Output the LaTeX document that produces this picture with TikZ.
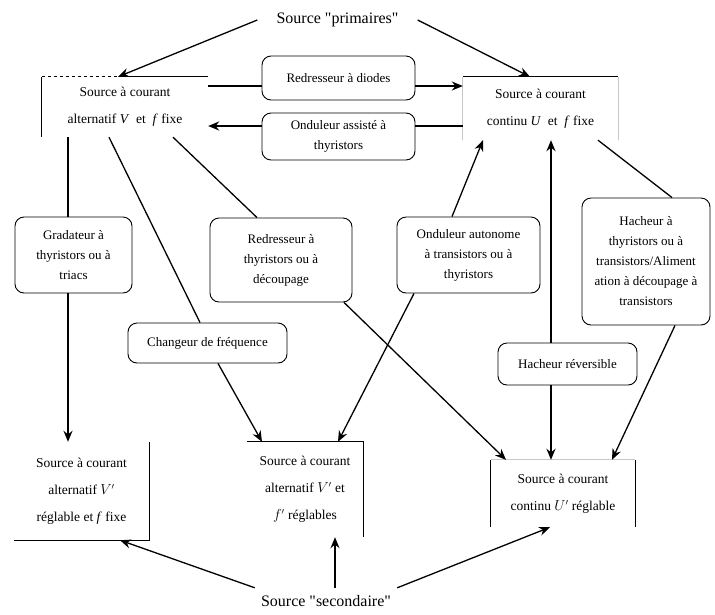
\documentclass[tikz,border=0pt]{standalone}
\usepackage{fontspec}
\setmainfont{Liberation Serif}
\usetikzlibrary{arrows.meta}
\begin{document}
\begin{tikzpicture}[x=1pt,y=-1pt,
  font=\fontsize{13}{20}\selectfont,
  conv/.style={draw, rounded corners=9pt, line width=0.9pt, align=center, inner sep=0pt},
  src/.style={align=center, inner sep=0pt, font=\fontsize{13.5}{27}\selectfont},
  big/.style={align=center, inner sep=0pt, font=\fontsize{16}{20}\selectfont},
  frame/.style={line width=1pt},
  faint/.style={line width=0.8pt, black!22},
  link/.style={line width=1.3pt},
  arr/.style={link, -{Stealth[length=11pt,width=9pt]}},
  heavy/.style={line width=2pt},
]
\useasboundingbox (0,0) rectangle (715,614);

% ---- sources ----
\node[big, minimum width=160pt, minimum height=16pt] (prim) at (337.5,20) {Source \textquotedbl primaires\textquotedbl};
\node[big, minimum width=142pt, minimum height=26pt] (sec) at (326,601) {Source \textquotedbl secondaire\textquotedbl};

\node[src, minimum width=166pt, minimum height=60pt] (tl) at (125,107)
  {Source à courant\\ alternatif \textit{V}~ et~ \textit{f} fixe};
\node[src, minimum width=155pt, minimum height=63pt] (tr) at (540.5,108.5)
  {Source à courant\\ continu \textit{U}~ et~ \textit{f} fixe};
\node[src, minimum width=135pt, minimum height=98pt] (bl) at (81.5,491)
  {Source à courant\\ alternatif $V'$\\ réglable et \textit{f} fixe};
\node[src, minimum width=116pt, minimum height=95pt] (bm) at (305,489.5)
  {Source à courant\\ alternatif $V'$ et\\ $f'$ réglables};
\node[src, minimum width=144pt, minimum height=67pt] (br) at (563,493.5)
  {Source à courant\\ continu $U'$ réglable};

% partial frames of the sources
\draw[frame, dashed] (tl.north west) -- (tl.north);
\draw[frame] (tl.north) -- (tl.north east);
\draw[frame] (tl.north west) -- (tl.south west);
\draw[frame] (tr.north west) -- (tr.north east);
\draw[faint] (tr.north west) -- (tr.south west);
\draw[faint] (tr.north east) -- (tr.south east);
\draw[frame] (bl.north east) -- (bl.south east) -- (bl.south west);
\draw[frame] (bm.north west) -- (bm.north east) -- (bm.south east);
\draw[frame] (br.north west) -- (br.south west);
\draw[frame] (br.north east) -- (br.south east);
\draw[faint] (br.north west) -- (br.north east);

% ---- converters ----
\node[conv, minimum width=153pt, minimum height=44pt] (redD) at (338.5,78) {Redresseur à diodes};
\node[conv, minimum width=153pt, minimum height=47pt] (ondA) at (338.5,136.5) {Onduleur assisté à\\ thyristors};
\node[conv, minimum width=117pt, minimum height=76pt] (grad) at (73.5,255) {Gradateur à\\ thyristors ou à\\ triacs};
\node[conv, minimum width=142pt, minimum height=84pt] (redT) at (281,260) {Redresseur à\\ thyristors ou à\\ découpage};
\node[conv, minimum width=159pt, minimum height=40pt] (chg) at (207.5,343) {Changeur de fréquence};
\node[conv, minimum width=143pt, minimum height=76pt] (ondAu) at (468.5,255) {Onduleur autonome\\ à transistors ou à\\ thyristors};
\node[conv, minimum width=128pt, minimum height=127pt] (hach) at (646,261.5) {Hacheur à\\ thyristors ou à\\ transistors/Aliment\\ ation à découpage à\\ transistors};
\node[conv, minimum width=139pt, minimum height=42pt] (hachR) at (567.5,364) {Hacheur réversible};

% ---- connectors ----
\draw[arr] (prim.west) -- (tl.north -| 118,0);
\draw[arr] (prim.east) -- (tr.north -| 530,0);

\draw[link, heavy] (tl.east |- 0,86) -- (redD.west |- 0,86);
\draw[arr, heavy] (redD.east |- 0,86) -- (tr.west |- 0,86);
\draw[link, heavy] (tr.west |- 0,126) -- (ondA.east |- 0,126);
\draw[arr, heavy] (ondA.west |- 0,126) -- (tl.east |- 0,126);

\draw[link, heavy] (tl.south -| 68,0) -- (grad.north -| 68,0);
\draw[arr, heavy] (grad.south -| 68,0) -- (bl.north -| 68,0);

\draw[link] (tl.south -| 109,0) -- (chg.north -| 200,0);
\draw[arr] (chg.south -| 218,0) -- (bm.north -| 262,0);

\draw[link] (tl.south -| 173,0) -- (redT.north -| 257,0);
\draw[arr] (redT.south -| 344,0) -- (br.north -| 506,0);

\draw[arr] (ondAu.south -| 414,0) -- (bm.north -| 338,0);
\draw[arr] (ondAu.north -| 452,0) -- (tr.south -| 483,0);

\draw[arr, heavy] (hachR.north -| 551,0) -- (tr.south -| 551,0);
\draw[arr, heavy] (hachR.south -| 551,0) -- (br.north -| 551,0);

\draw[link] (tr.south -| 598,0) -- (hach.north -| 672,0);
\draw[arr] (hach.south -| 675,0) -- (br.north -| 612,0);

\draw[arr] (sec.north west) -- (bl.south -| 120,0);
\draw[arr] (sec.north -| 335,0) -- (bm.south -| 335,0);
\draw[arr] (sec.north east) -- (br.south -| 550,0);
\end{tikzpicture}
\end{document}
